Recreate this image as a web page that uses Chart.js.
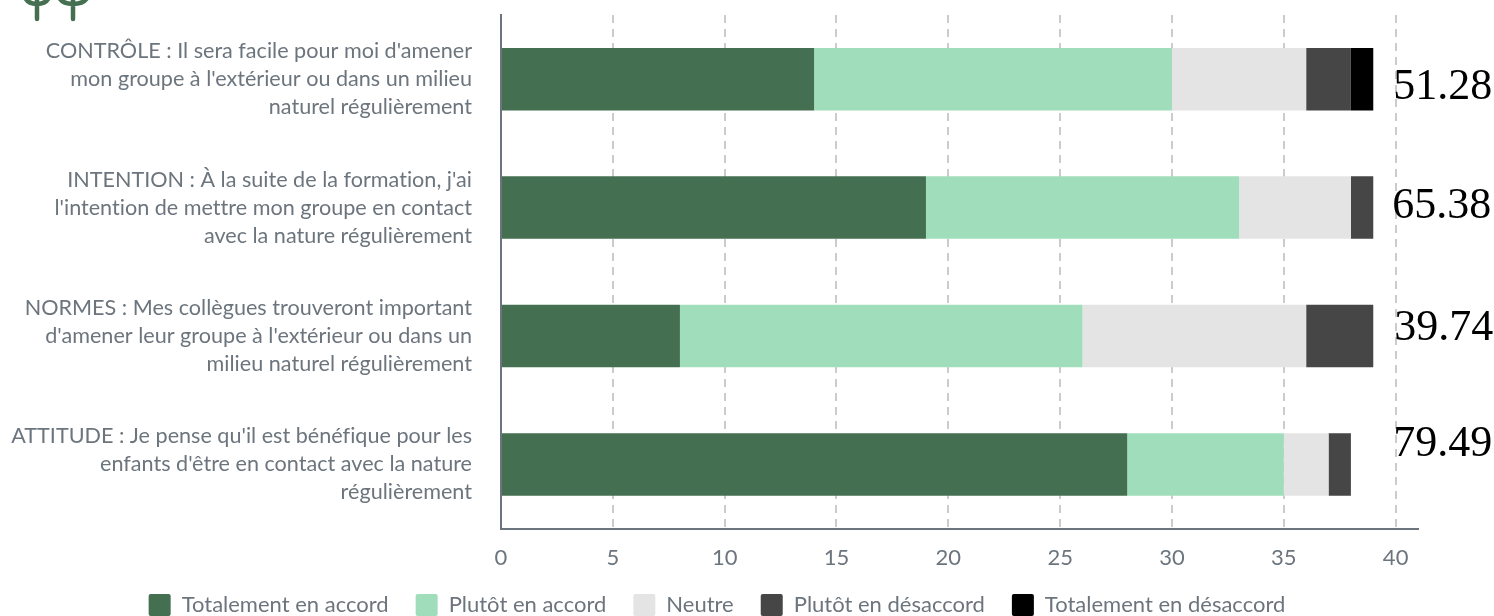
<!DOCTYPE html>
<html>
<head>
<meta charset="utf-8">
<script src="https://cdn.jsdelivr.net/npm/chart.js@4"></script>
<style>
  html, body { margin: 0; padding: 0; background: #fff; overflow: hidden; }
  #wrap { position: relative; width: 1494px; height: 616px; }
  #chart { display: block; }
  #trees { position: absolute; left: 20px; top: 0; }
</style>
</head>
<body>
<div id="wrap">
  <canvas id="chart" width="1494" height="616"></canvas>
  <svg id="trees" width="80" height="24" fill="none" stroke="#446f50" stroke-width="4.5" stroke-linecap="round">
    <path d="M17 -2V19M4 -6Q6 4 17 4Q28 4 30 -6"/>
    <path d="M53 -2V19M38 -6Q40 4 53 4Q66 4 69 -6"/>
  </svg>
</div>
<script>
const categories = [
  ["CONTRÔLE : Il sera facile pour moi d'amener", "mon groupe à l'extérieur ou dans un milieu", "naturel régulièrement"],
  ["INTENTION : À la suite de la formation, j'ai", "l'intention de mettre mon groupe en contact", "avec la nature régulièrement"],
  ["NORMES : Mes collègues trouveront important", "d'amener leur groupe à l'extérieur ou dans un", "milieu naturel régulièrement"],
  ["ATTITUDE : Je pense qu'il est bénéfique pour les", "enfants d'être en contact avec la nature", "régulièrement"]
];
const totalementAccord = [14, 19, 8, 28];
const plutotAccord = [16, 14, 18, 7];
const neutre = [6, 5, 10, 2];
const plutotDesaccord = [2, 1, 3, 1];
const totalementDesaccord = [1, 0, 0, 0];
const scores = ["51.28", "65.38", "39.74", "79.49"];
const xTicks = [0, 5, 10, 15, 20, 25, 30, 35, 40];

const greyText = '#6c757d';

// the score labels do not sit exactly on the bar centres in the original
const scoreDx = [20, 19, 21, 20];
const scoreDy = [20, 10, 4, -8];

const scoreLabels = {
  id: 'scoreLabels',
  beforeDraw(chart) {
    chart.ctx.textRendering = 'optimizeSpeed'; // no "ti" ligatures
  },
  afterLayout(chart) {
    // legend is centred a bit right of the plot padding box
    chart.legend.left += 8;
    chart.legend.right += 8;
  },
  afterDatasetsDraw(chart) {
    const { ctx, scales } = chart;
    ctx.save();
    ctx.font = '44px "Liberation Serif"';
    ctx.fillStyle = '#000';
    ctx.textBaseline = 'alphabetic';
    ctx.textAlign = 'left';
    scores.forEach((s, i) => {
      const x = scales.x.getPixelForValue(39) + scoreDx[i];
      const y = scales.y.getPixelForValue(i) + scoreDy[i];
      ctx.fillText(s, x, y);
    });
    ctx.restore();
  }
};

function ds(label, data, color) {
  return { label, data, backgroundColor: color, borderWidth: 0, barPercentage: 0.487, categoryPercentage: 1 };
}

new Chart(document.getElementById('chart'), {
  type: 'bar',
  plugins: [scoreLabels],
  data: {
    labels: categories,
    datasets: [
      ds('Totalement en accord', totalementAccord, '#446f50'),
      ds('Plutôt en accord', plutotAccord, '#a0debb'),
      ds('Neutre', neutre, '#e4e4e4'),
      ds('Plutôt en désaccord', plutotDesaccord, '#464646'),
      ds('Totalement en désaccord', totalementDesaccord, '#000000')
    ]
  },
  options: {
    indexAxis: 'y',
    responsive: false,
    animation: false,
    layout: { padding: { left: 0, right: 76, top: 15, bottom: -10 } },
    scales: {
      x: {
        stacked: true,
        min: 0,
        max: 41,
        afterBuildTicks: (axis) => { axis.ticks = xTicks.map(v => ({ value: v })); },
        afterFit: (axis) => { axis.height -= 20; },
        border: { color: greyText, width: 2, dash: [8, 6] },
        grid: { color: '#c8ccd0', lineWidth: 2, drawTicks: false },
        ticks: { color: greyText, font: { family: 'Lato', size: 22 }, padding: 16, maxRotation: 0 }
      },
      y: {
        stacked: true,
        afterFit: (axis) => { axis.width = 501; axis.paddingTop = 0; axis.paddingBottom = 0; },
        border: { color: greyText, width: 2 },
        grid: { display: false },
        ticks: { color: greyText, font: { family: 'Lato', size: 21.6, lineHeight: 1.296 }, padding: 21 }
      }
    },
    plugins: {
      tooltip: { enabled: false },
      legend: {
        position: 'bottom',
        labels: {
          boxWidth: 22, boxHeight: 22, padding: 27,
          color: greyText,
          font: { family: 'Lato', size: 22 },
          useBorderRadius: true, borderRadius: 2
        }
      }
    }
  }
});
</script>
</body>
</html>
